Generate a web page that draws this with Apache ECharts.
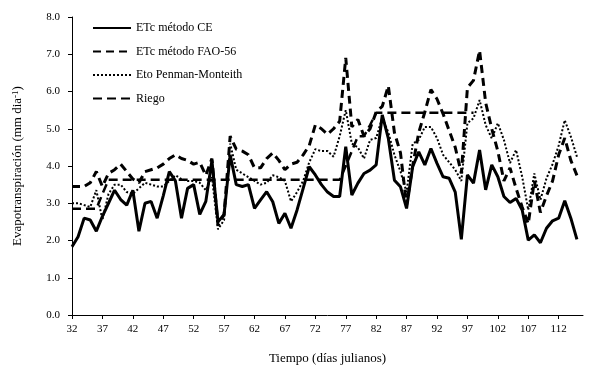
<!DOCTYPE html>
<html>
<head>
<meta charset="utf-8">
<script src="https://cdn.jsdelivr.net/npm/echarts@6/dist/echarts.min.js"></script>
<style>
  html, body { margin: 0; padding: 0; background: #fff; }
  #chart { width: 599px; height: 377px; }
</style>
</head>
<body>
<div id="chart"></div>
<script>
// dias julianos (la ultima categoria solo prolonga el eje)
const days = [32, 33, 34, 35, 36, 37, 38, 39, 40, 41, 42, 43, 44, 45, 46, 47, 48, 49, 50, 51,
  52, 53, 54, 55, 56, 57, 58, 59, 60, 61, 62, 63, 64, 65, 66, 67, 68, 69, 70, 71,
  72, 73, 74, 75, 76, 77, 78, 79, 80, 81, 82, 83, 84, 85, 86, 87, 88, 89, 90, 91,
  92, 93, 94, 95, 96, 97, 98, 99, 100, 101, 102, 103, 104, 105, 106, 107, 108, 109, 110, 111,
  112, 113, 114, 115, 116]

const etcCE = [1.83, 2.1, 2.6, 2.55, 2.25, 2.65, 3.0, 3.35, 3.1, 2.95,
  3.35, 2.25, 3.0, 3.05, 2.6, 3.2, 3.85, 3.6, 2.6, 3.4,
  3.5, 2.7, 3.05, 4.15, 2.5, 2.7, 4.3, 3.5, 3.45, 3.5,
  2.86, 3.09, 3.31, 3.04, 2.46, 2.73, 2.33, 2.82, 3.4, 3.98,
  3.76, 3.5, 3.3, 3.18, 3.18, 4.52, 3.22, 3.54, 3.8, 3.89,
  4.03, 5.37, 4.74, 3.62, 3.44, 2.86, 3.98, 4.38, 4.03, 4.47,
  4.07, 3.71, 3.67, 3.3, 2.03, 3.76, 3.54, 4.43, 3.36, 4.03,
  3.71, 3.18, 3.02, 3.13, 2.82, 2.01, 2.15, 1.94, 2.33, 2.53,
  2.6, 3.07, 2.6, 2.03]

const etcFAO = [3.45, 3.45, 3.45, 3.55, 3.85, 3.45, 3.8, 3.9, 4.05, 3.85,
  3.65, 3.55, 3.85, 3.9, 3.95, 4.05, 4.2, 4.3, 4.2, 4.15,
  4.05, 4.1, 3.75, 4.2, 2.4, 2.7, 4.8, 4.45, 4.4, 4.3,
  3.95, 3.95, 4.2, 4.35, 4.15, 3.9, 4.05, 4.1, 4.3, 4.55,
  5.1, 5.0, 4.85, 5.0, 5.2, 6.9, 5.05, 5.25, 4.8, 5.0,
  5.45, 5.6, 6.15, 4.9, 4.35, 2.95, 4.0, 4.9, 5.45, 6.05,
  5.8, 5.4, 4.95, 4.5, 3.8, 6.1, 6.3, 7.1, 5.7, 5.0,
  4.4, 3.6, 3.95, 3.4, 2.9, 2.45, 3.6, 2.75, 3.2, 3.6,
  4.3, 4.75, 4.15, 3.75]

const etoPM = [3.0, 3.0, 2.95, 2.9, 3.35, 2.55, 3.25, 3.5, 3.5, 3.3,
  3.25, 3.4, 3.55, 3.5, 3.45, 3.45, 3.6, 3.75, 3.65, 3.6,
  3.6, 3.55, 3.35, 3.7, 2.3, 2.55, 4.6, 3.9, 3.8, 3.7,
  3.6, 3.5, 3.55, 3.75, 3.7, 3.6, 3.05, 3.3, 3.6, 4.1,
  4.45, 4.4, 4.4, 4.25, 4.8, 5.5, 4.6, 4.5, 4.2, 4.7,
  4.75, 5.3, 4.9, 4.3, 3.85, 3.3, 4.6, 4.7, 5.05, 5.05,
  4.75, 4.3, 4.1, 3.9, 3.6, 5.15, 5.28, 5.77, 5.1, 4.74,
  5.15, 4.7, 4.08, 4.43, 3.71, 2.82, 3.8, 3.09, 3.67, 4.05,
  4.55, 5.23, 4.79, 4.25]

const riego = [2.85, 2.85, 2.85, 2.85, 2.85, 3.25, 3.63, 3.63, 3.63, 3.63,
  3.63, 3.63, 3.63, 3.63, 3.63, 3.63, 3.63, 3.63, 3.63, 3.63,
  3.63, 3.63, 3.63, 3.63, 3.63, 3.63, 3.63, 3.63, 3.63, 3.63,
  3.63, 3.63, 3.63, 3.63, 3.63, 3.63, 3.63, 3.63, 3.63, 3.63,
  3.63, 3.63, 3.63, 3.63, 3.63, 4.0, 4.4, 4.8, 4.8, 5.1,
  5.43, 5.43, 5.43, 5.43, 5.43, 5.43, 5.43, 5.43, 5.43, 5.43,
  5.43, 5.43, 5.43, 5.43, 5.43, 5.43, 5.43, null, null, null,
  null, null, null, null, null, null, null, null, null, null,
  null, null, null, null]

const font = 'Liberation Serif'

const chart = echarts.init(document.getElementById('chart'))

const lineSeries = (name, data, width, dash) => ({
  name,
  type: 'line',
  data,
  symbol: 'none',
  connectNulls: false,
  lineStyle: { color: '#000', width, type: dash, cap: 'butt' },
  itemStyle: { color: '#000' }
})

chart.setOption({
  animation: false,
  grid: { left: 72, right: 16, top: 17, bottom: 62 },
  legend: {
    orient: 'vertical',
    left: 92,
    top: 22,
    padding: 0,
    itemWidth: 38,
    itemHeight: 12,
    itemGap: 11.5,
    itemStyle: { opacity: 0 },
    textStyle: { fontFamily: font, fontSize: 12, color: '#000' },
    data: ['ETc método CE', 'ETc método FAO-56', 'Eto Penman-Monteith', 'Riego']
  },
  xAxis: {
    type: 'category',
    data: days,
    boundaryGap: false,
    name: 'Tiempo (días julianos)',
    nameLocation: 'middle',
    nameGap: 37,
    nameTextStyle: { fontFamily: font, fontSize: 13, color: '#000' },
    axisLine: { show: true, lineStyle: { color: '#000', width: 1 } },
    axisTick: { show: true, interval: 4, length: 4, lineStyle: { color: '#000' } },
    axisLabel: { interval: 4, margin: 9, fontFamily: font, fontSize: 11, color: '#000' },
    splitLine: { show: false }
  },
  yAxis: {
    type: 'value',
    min: 0,
    max: 8,
    interval: 1,
    name: 'Evapotranspiración (mm dia{sup|-1})',
    nameLocation: 'middle',
    nameGap: 48,
    nameTextStyle: {
      fontFamily: font, fontSize: 13, color: '#000',
      rich: { sup: { fontFamily: font, fontSize: 9, verticalAlign: 'top', color: '#000' } }
    },
    axisLine: { show: true, lineStyle: { color: '#000', width: 1 } },
    axisTick: { show: true, length: 4, lineStyle: { color: '#000' } },
    axisLabel: { margin: 12, fontFamily: font, fontSize: 11, color: '#000', formatter: v => v.toFixed(1) },
    splitLine: { show: false }
  },
  series: [
    lineSeries('Riego', riego, 2.5, [9, 5]),
    lineSeries('Eto Penman-Monteith', etoPM, 2, [2, 2]),
    lineSeries('ETc método FAO-56', etcFAO, 3, [8, 5]),
    lineSeries('ETc método CE', etcCE, 3, 'solid')
  ]
})
</script>
</body>
</html>
